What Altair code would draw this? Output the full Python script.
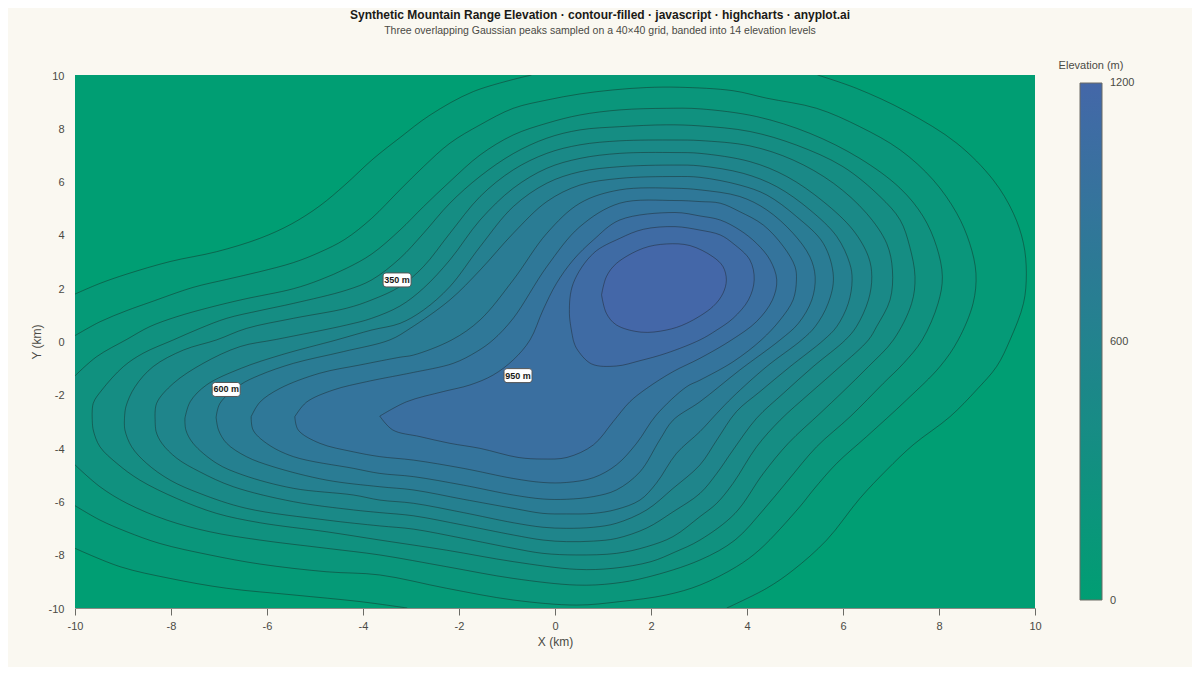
import altair as alt
import pandas as pd

# elevation value of each filled band, lowest first
levels = [0, 92, 185, 277, 369, 462, 554, 646, 738, 831, 923, 1015, 1108, 1200]

base = [(-10, 10), (10, 10), (10, -10), (-10, -10)]

# outermost contour leaves the plot, so it comes in three pieces
contour_0a = [(-10, 1.78), (-9.48, 2.18), (-8.92, 2.53), (-8.02, 3.0), (-7.05, 3.37), (-6.15, 3.87), (-5.49, 4.41),
              (-4.9, 5.09), (-4.38, 5.87), (-3.79, 6.85), (-3.23, 7.65), (-2.6, 8.5), (-1.7, 9.38), (-0.49, 10)]
contour_0b = [(5.47, 10), (6.28, 9.5), (7.32, 8.63), (8.37, 7.44), (9.13, 6.06), (9.55, 4.81), (9.76, 3.68),
              (9.82, 2.56), (9.76, 1.43), (9.48, 0.06), (9.2, -0.94), (8.78, -1.82), (8.23, -2.82), (7.46, -3.88),
              (6.91, -4.82), (6.35, -5.89), (5.66, -7.45), (4.96, -8.58), (4.41, -9.26), (3.58, -10)]
contour_0c = [(-3.08, -10), (-4.06, -9.76), (-5.45, -9.51), (-6.84, -9.26), (-8.02, -8.89), (-9.06, -8.45), (-10, -7.76)]

contour_1 = [(-10, 0.22), (-9.48, 0.74), (-8.92, 1.16), (-8.44, 1.47), (-7.54, 2.03), (-6.84, 2.33), (-6.15, 2.62),
             (-5.45, 2.96), (-4.9, 3.35), (-4.38, 3.83), (-3.82, 4.62), (-3.23, 5.69), (-2.74, 6.56), (-2.19, 7.44),
             (-1.56, 8.13), (-0.87, 8.75), (-0.17, 9.06), (0.52, 9.29), (1.21, 9.44), (1.91, 9.53), (2.6, 9.54),
             (3.71, 9.41), (4.41, 9.13), (5.45, 8.75), (6.35, 8.06), (7.19, 7.19), (7.88, 6.06), (8.37, 4.81),
             (8.64, 3.68), (8.77, 2.56), (8.71, 1.43), (8.4, 0.06), (8.02, -0.94), (7.32, -2.2), (6.49, -3.57),
             (5.87, -4.57), (5.38, -5.57), (5.1, -6.2), (4.27, -7.8), (3.78, -8.45), (3.02, -9.14), (2.32, -9.51),
             (1.35, -9.76), (0.45, -9.89), (-0.87, -9.7), (-2.26, -9.26), (-3.65, -8.76), (-4.76, -8.64),
             (-6.15, -8.35), (-7.19, -8.01), (-8.23, -7.58), (-8.92, -7.14), (-9.48, -6.7), (-10, -6.16)]

contour_2 = [(-10, -1.29), (-9.55, -0.57), (-8.92, 0.08), (-8.44, 0.56), (-7.88, 0.93), (-7.19, 1.28), (-6.5, 1.58),
             (-5.45, 1.98), (-4.9, 2.31), (-4.34, 2.75), (-3.82, 3.28), (-3.23, 4.18), (-2.74, 5.06), (-2.19, 6.0),
             (-1.56, 7.0), (-0.87, 7.75), (-0.17, 8.19), (0.52, 8.5), (1.35, 8.69), (2.32, 8.75), (3.02, 8.73),
             (4.2, 8.44), (5.31, 7.81), (6.35, 6.87), (7.19, 5.75), (7.67, 4.69), (7.95, 3.56), (8.07, 2.43),
             (7.98, 1.43), (7.65, 0.06), (7.26, -0.82), (6.84, -1.57), (6.15, -2.82), (5.45, -3.95), (4.86, -5.2),
             (4.34, -6.32), (3.75, -7.45), (3.02, -8.2), (1.91, -8.85), (1.21, -9.08), (0.45, -9.14), (-0.87, -8.89),
             (-2.26, -8.45), (-3.65, -8.01), (-4.76, -7.76), (-6.15, -7.45), (-7.19, -7.14), (-8.09, -6.7),
             (-8.92, -6.07), (-9.48, -5.45), (-10, -4.63)]

contour_3 = [(-9.64, -2.95), (-9.62, -2.32), (-9.44, -1.82), (-8.99, -0.94), (-8.58, -0.44), (-7.95, 0.06), (-7.4, 0.49),
             (-6.84, 0.87), (-6.15, 1.16), (-5.45, 1.43), (-4.34, 1.93), (-3.82, 2.31), (-3.23, 3.12), (-2.74, 4.06),
             (-2.19, 5.19), (-1.56, 6.2), (-0.87, 7.05), (-0.17, 7.63), (0.52, 7.94), (1.35, 8.06), (2.32, 8.13),
             (3.02, 8.09), (4.06, 7.88), (5.03, 7.37), (6.0, 6.56), (6.77, 5.44), (7.19, 4.56), (7.39, 3.56),
             (7.5, 2.43), (7.43, 1.43), (7.05, 0.06), (6.53, -0.94), (6.0, -1.88), (5.52, -2.7), (4.86, -3.82),
             (4.34, -4.95), (3.75, -6.45), (3.02, -7.45), (2.5, -7.9), (2.0, -8.26), (1.21, -8.51), (0.45, -8.55),
             (-0.87, -8.26), (-2.26, -7.83), (-3.65, -7.45), (-4.76, -7.14), (-6.15, -6.8), (-7.05, -6.45), (-7.88, -5.89),
             (-8.65, -5.2), (-9.13, -4.57), (-9.48, -3.95), (-9.62, -3.32), (-9.64, -2.95)]

contour_4 = [(-8.97, -2.95), (-8.94, -2.45), (-8.75, -1.7), (-8.37, -0.94), (-7.74, -0.32), (-7.05, 0.06), (-6.43, 0.49),
             (-5.45, 0.87), (-4.34, 1.25), (-3.82, 1.56), (-3.23, 2.06), (-2.74, 2.81), (-2.19, 4.06), (-1.56, 5.44),
             (-0.87, 6.44), (-0.17, 7.06), (0.52, 7.38), (1.35, 7.53), (2.5, 7.56), (3.02, 7.54), (4.06, 7.34),
             (4.96, 6.81), (5.8, 5.94), (6.49, 4.81), (6.91, 3.68), (7.03, 2.68), (6.98, 1.56), (6.7, 0.56),
             (6.53, 0.06), (5.94, -0.94), (5.31, -1.94), (4.69, -2.95), (4.2, -3.95), (3.71, -5.32), (3.37, -6.07),
             (3.02, -6.57), (2.46, -7.32), (1.91, -7.7), (1.28, -7.95), (0.45, -8.01), (-0.25, -7.95), (-0.87, -7.76),
             (-1.91, -7.39), (-2.95, -7.04), (-3.65, -6.92), (-4.76, -6.7), (-6.43, -6.26), (-7.4, -5.7), (-8.02, -5.2),
             (-8.51, -4.57), (-8.82, -3.95), (-8.96, -3.32), (-8.97, -2.95)]

contour_5 = [(-8.33, -2.95), (-8.3, -2.32), (-7.95, -1.57), (-7.33, -0.82), (-6.56, -0.19), (-5.8, 0.08), (-4.34, 0.62),
             (-3.82, 0.87), (-3.23, 1.33), (-2.74, 2.0), (-2.19, 3.06), (-1.56, 4.56), (-0.87, 5.75), (-0.17, 6.5),
             (0.52, 6.87), (1.35, 7.06), (2.5, 7.09), (3.02, 7.06), (4.06, 6.75), (4.83, 6.19), (5.59, 5.25),
             (6.21, 4.18), (6.53, 3.18), (6.6, 2.43), (6.53, 1.56), (6.28, 0.56), (6.05, 0.06), (5.38, -0.94),
             (4.76, -1.94), (4.2, -2.88), (3.71, -4.07), (3.37, -4.95), (3.02, -5.7), (2.46, -6.39), (1.91, -7.0),
             (1.28, -7.39), (0.8, -7.49), (0.24, -7.51), (-0.25, -7.45), (-0.87, -7.26), (-1.91, -6.89), (-2.95, -6.54),
             (-3.65, -6.42), (-4.2, -6.32), (-5.45, -6.01), (-6.7, -5.45), (-7.4, -4.89), (-7.88, -4.38), (-8.19, -3.82),
             (-8.31, -3.38), (-8.33, -2.95)]

contour_6 = [(-7.71, -2.88), (-7.6, -2.26), (-7.26, -1.63), (-6.53, -1.0), (-5.7, -0.5), (-4.55, 0.06), (-3.82, 0.43),
             (-3.23, 0.68), (-2.74, 1.18), (-2.19, 2.06), (-1.56, 3.56), (-0.87, 5.06), (-0.17, 5.94), (0.52, 6.37),
             (1.35, 6.56), (2.5, 6.62), (3.02, 6.59), (3.92, 6.31), (4.62, 5.81), (5.31, 4.94), (5.87, 3.94),
             (6.14, 2.93), (6.19, 2.31), (6.11, 1.43), (5.87, 0.56), (5.6, 0.06), (4.9, -0.94), (4.27, -1.88),
             (3.78, -2.63), (3.37, -3.7), (3.02, -4.63), (2.46, -5.51), (1.91, -6.32), (1.28, -6.82), (0.8, -6.97),
             (0.24, -7.01), (-0.25, -6.97), (-0.87, -6.8), (-1.91, -6.42), (-2.95, -6.07), (-3.65, -5.95), (-4.2, -5.76),
             (-5.45, -5.51), (-6.5, -5.01), (-7.05, -4.57), (-7.54, -3.82), (-7.69, -3.32), (-7.71, -2.88)]

contour_7 = [(-7.06, -2.85), (-6.98, -2.32), (-6.56, -1.63), (-6.15, -1.26), (-5.45, -0.82), (-4.41, -0.38), (-3.44, 0.06),
             (-3.02, 0.49), (-2.19, 1.56), (-1.56, 2.68), (-0.87, 4.06), (-0.17, 5.25), (0.52, 5.87), (1.35, 6.12),
             (2.5, 6.19), (3.02, 6.16), (3.85, 5.87), (4.41, 5.5), (5.03, 4.69), (5.59, 3.68), (5.8, 2.43), (5.69, 1.43),
             (5.42, 0.56), (5.14, 0.06), (4.41, -0.94), (3.71, -2.07), (3.37, -2.7), (3.02, -3.38), (2.53, -4.2),
             (2.11, -5.32), (1.77, -5.95), (1.28, -6.3), (0.8, -6.45), (0.24, -6.47), (-0.25, -6.45), (-0.87, -6.26),
             (-1.91, -5.92), (-2.95, -5.57), (-3.65, -5.45), (-4.76, -5.2), (-5.87, -4.7), (-6.43, -4.32), (-6.84, -3.82),
             (-7.01, -3.32), (-7.06, -2.85)]

contour_8 = [(-6.33, -2.82), (-6.15, -2.28), (-5.73, -1.76), (-4.9, -1.19), (-4.06, -0.88), (-3.23, -0.59), (-2.95, -0.51),
             (-2.15, 0.06), (-1.56, 0.81), (-0.87, 2.31), (-0.17, 4.06), (0.52, 5.19), (1.35, 5.69), (2.5, 5.75),
             (3.02, 5.69), (3.85, 5.44), (4.41, 4.94), (4.96, 4.06), (5.31, 3.18), (5.42, 2.43), (5.35, 1.56),
             (5.07, 0.68), (4.69, 0.06), (3.85, -1.07), (3.02, -2.26), (2.46, -2.95), (2.18, -3.7), (1.77, -4.89),
             (1.28, -5.57), (0.8, -5.82), (0.24, -5.92), (-0.25, -5.91), (-0.87, -5.76), (-1.91, -5.39), (-2.95, -5.07),
             (-3.65, -4.95), (-4.2, -4.76), (-5.45, -4.32), (-6.01, -3.82), (-6.29, -3.32), (-6.33, -2.82)]

contour_9 = [(-5.42, -2.82), (-5.18, -2.28), (-4.62, -1.82), (-3.93, -1.51), (-3.23, -1.26), (-2.95, -1.16), (-2.12, -0.82),
             (-1.63, -0.38), (-1.29, 0.06), (-0.87, 0.87), (-0.17, 2.81), (0.52, 4.31), (1.35, 5.19), (2.5, 5.29),
             (3.02, 5.25), (3.44, 5.19), (3.85, 4.87), (4.34, 4.37), (4.76, 3.56), (5.0, 2.81), (5.03, 2.31), (4.96, 1.56),
             (4.69, 0.81), (4.3, 0.06), (3.71, -0.76), (3.02, -1.45), (2.74, -1.7), (2.11, -2.76), (1.7, -3.82),
             (1.28, -4.63), (0.8, -5.11), (0.24, -5.29), (-0.25, -5.29), (-0.87, -5.14), (-1.91, -4.76), (-2.95, -4.45),
             (-3.65, -4.32), (-4.2, -4.14), (-4.9, -3.82), (-5.35, -3.32), (-5.42, -2.82)]

contour_10 = [(-3.65, -2.8), (-3.09, -2.26), (-2.33, -1.88), (-1.77, -1.63), (-1.29, -1.26), (-0.87, -0.69), (-0.52, 0.06),
              (-0.25, 1.18), (0.03, 2.18), (0.38, 3.06), (0.8, 3.81), (1.35, 4.56), (2.5, 4.84), (3.02, 4.71), (3.44, 4.56),
              (3.85, 4.18), (4.2, 3.68), (4.48, 3.06), (4.62, 2.31), (4.53, 1.56), (4.2, 0.75), (3.68, 0.06), (3.02, -0.63),
              (2.46, -1.13), (1.91, -1.76), (1.56, -2.26), (1.21, -3.01), (0.8, -3.88), (0.25, -4.35), (-0.25, -4.41),
              (-0.77, -4.35), (-1.56, -4.01), (-2.19, -3.82), (-2.81, -3.57), (-3.38, -3.32), (-3.65, -2.8)]

contour_11 = [(0.38, 0.06), (0.3, 1.06), (0.38, 2.18), (0.8, 3.31), (1.35, 3.87), (1.84, 4.21), (2.5, 4.31), (3.02, 4.18),
              (3.44, 4.0), (3.71, 3.68), (4.06, 3.06), (4.15, 2.31), (4.03, 1.56), (3.71, 0.87), (3.37, 0.43), (3.02, 0.06),
              (2.32, -0.44), (1.77, -0.72), (1.28, -0.92), (0.76, -0.84), (0.45, -0.26), (0.38, 0.06)]

contour_12 = [(0.97, 1.75), (1.07, 2.43), (1.28, 2.93), (1.84, 3.5), (2.32, 3.66), (2.81, 3.6), (3.29, 3.18), (3.5, 2.81),
              (3.57, 2.31), (3.5, 1.81), (3.29, 1.31), (2.74, 0.68), (2.32, 0.43), (1.8, 0.35), (1.28, 0.62), (1.07, 1.06),
              (0.97, 1.75)]

band_pieces = [
    [base], [contour_0a, contour_0b, contour_0c], [contour_1], [contour_2], [contour_3], [contour_4], [contour_5],
    [contour_6], [contour_7], [contour_8], [contour_9], [contour_10], [contour_11], [contour_12],
]

label_x = [-3.29, -6.85, -0.77]
label_y = [2.31, -1.8, -1.28]
label_text = ["350 m", "600 m", "950 m"]

colorbar_labels = ["1200", "600", "0"]
colorbar_label_y = [8, 267, 526]

# one row per vertex, bands keep their order so the higher ones paint on top
rows = []
for band, (level, pieces) in enumerate(zip(levels, band_pieces)):
    i = 0
    for p, piece in enumerate(pieces):
        for x, y in piece:
            rows.append({"band": band, "piece": f"{band}-{p}", "level": level, "i": i, "x": x, "y": y})
            i += 1
df = pd.DataFrame(rows)

FONT = "Liberation Sans"
x_scale = alt.Scale(domain=[-10, 10], nice=False)
y_scale = alt.Scale(domain=[-10, 10], nice=False)
x_enc = alt.X("x:Q", scale=x_scale, title="X (km)", axis=alt.Axis(
    values=list(range(-10, 11, 2)), grid=False, domainColor="#8a8a84", tickColor="#6b6b65", tickSize=7,
    labelPadding=5, labelFontSize=11, titleFontSize=12, titleFontWeight="normal", titlePadding=5,
    labelColor="#4a4a44", titleColor="#4a4a44", labelFont=FONT, titleFont=FONT, labelFlush=False,
    labelExpr="'' + datum.value"))
y_enc = alt.Y("y:Q", scale=y_scale, title="Y (km)", axis=alt.Axis(
    values=list(range(-10, 11, 2)), grid=False, domain=False, ticks=False, labelPadding=11, labelFontSize=11,
    labelOffset=1, titleFontSize=12, titleFontWeight="normal", titlePadding=5, labelColor="#4a4a44",
    titleColor="#4a4a44", labelFont=FONT, titleFont=FONT, labelExpr="'' + datum.value"))

bands = alt.Chart(df).mark_line(strokeWidth=0, clip=True, interpolate="catmull-rom").encode(
    x=x_enc,
    y=y_enc,
    detail="band:N",
    order="i:Q",
    fill=alt.Fill("level:Q", scale=alt.Scale(domain=[0, 1200], range=["#009E73", "#4467A8"], interpolate="rgb"),
                  legend=alt.Legend(
        title=None, orient="none", legendX=1005, legendY=8, gradientLength=517, gradientThickness=22,
        values=[0, 600, 1200], gradientStrokeColor="#6b6b65", gradientStrokeWidth=1, labelExpr="''")),
)

lines = alt.Chart(df[df["band"] > 0]).mark_line(
    stroke="#1A1A17", strokeOpacity=0.4, strokeWidth=1, clip=True, interpolate="catmull-rom").encode(
    x="x:Q", y="y:Q", detail="piece:N", order="i:Q")

label_df = pd.DataFrame({"x": label_x, "y": label_y, "text": label_text})
boxes = alt.Chart(label_df).mark_rect(width=28, height=14, cornerRadius=3, fill="white", stroke="#555", strokeWidth=1).encode(
    x="x:Q", y="y:Q")
texts = alt.Chart(label_df).mark_text(fontSize=9, fontWeight="bold", font=FONT, color="#1A1A17").encode(
    x="x:Q", y="y:Q", text="text:N")

legend_title = alt.Chart(pd.DataFrame({"t": ["Elevation (m)"]})).mark_text(
    fontSize=11, font=FONT, color="#4a4a44", align="center").encode(
    x=alt.value(1016), y=alt.value(-9), text="t:N")

legend_labels = alt.Chart(pd.DataFrame({"t": colorbar_labels, "py": colorbar_label_y})).mark_text(
    fontSize=11, font=FONT, color="#4a4a44", align="left").encode(
    x=alt.value(1035), y=alt.Y("py:Q", scale=None), text="t:N")

chart = alt.layer(bands, lines, boxes, texts, legend_title, legend_labels).properties(
    width=960,
    height=533,
    autosize=alt.AutoSizeParams(type="none"),
    padding={"left": 67, "top": 67, "right": 157, "bottom": 59},
    background="#FAF8F1",
    title=alt.Title(
        "Synthetic Mountain Range Elevation · contour-filled · javascript · highcharts · anyplot.ai",
        subtitle="Three overlapping Gaussian peaks sampled on a 40×40 grid, banded into 14 elevation levels",
        anchor="middle", dx=45, offset=23, font=FONT, fontSize=12, fontWeight="bold", color="#1A1A17",
        subtitleFont=FONT, subtitleFontSize=10.5, subtitleColor="#4a4a44", subtitlePadding=4),
).configure_view(stroke=None)

chart.save("out.html", embed_options={"renderer": "svg", "actions": False})
